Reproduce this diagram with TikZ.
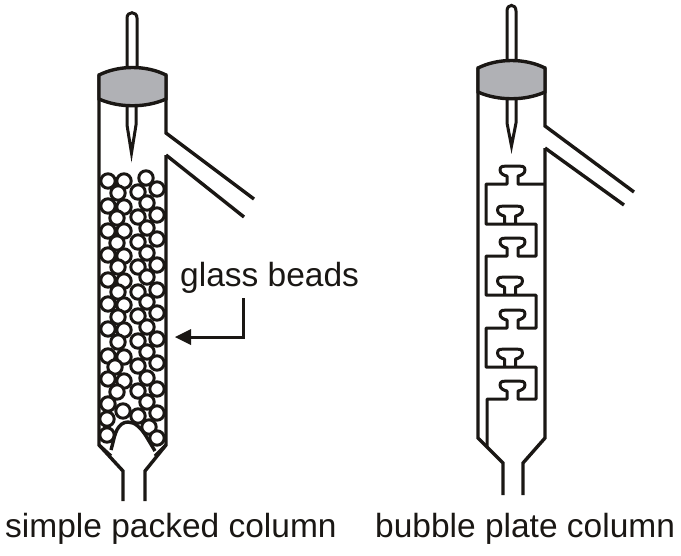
\documentclass[tikz,border=0pt]{standalone}
\usepackage{fontspec}
\setmainfont{Liberation Sans}
\definecolor{ink}{HTML}{1A1714}
\definecolor{stopper}{HTML}{B0B1B5}
\tikzset{
  glass/.style={draw=ink,line width=3.4pt,line join=miter},
  thin glass/.style={draw=ink,line width=3pt,line join=miter},
  bead/.style={draw=ink,line width=3pt,fill=white},
  lbl/.style={font=\fontsize{33.5}{38}\selectfont,text=ink,inner sep=0pt}
}
\newcommand{\platecap}[2]{% centre x, base y
  (#1+5.5,#2) -- (#1+5.5,#2-8) .. controls (#1+8,#2-8.5) and (#1+12.5,#2-10) .. (#1+12.5,#2-14)
  .. controls (#1+12.5,#2-18) and (#1+9,#2-18) .. (#1+6,#2-18) -- (#1-6,#2-18)
  .. controls (#1-9,#2-18) and (#1-12.5,#2-18) .. (#1-12.5,#2-14)
  .. controls (#1-12.5,#2-10) and (#1-8,#2-8.5) .. (#1-5.5,#2-8) -- (#1-5.5,#2)}
\newcommand{\stopperpath}[3]{% xl, xr, top y
  (#1,#3+8) .. controls (#1+20,#3-2) and (#2-20,#3-2) .. (#2,#3+8) -- (#2,#3+32)
  .. controls (#2-20,#3+41) and (#1+20,#3+41) .. (#1,#3+32) -- cycle}
\begin{document}
\begin{tikzpicture}[x=1pt,y=-1pt]
\useasboundingbox (0,0) rectangle (681,555);
% ---------- left column ----------
\draw[glass] (99,75) -- (99,445) -- (123,471) -- (123,501);
\draw[glass] (166,75) -- (166,133) -- (254,199);
\draw[glass] (166,155) -- (244,217);
\draw[glass] (166,155) -- (166,445) -- (145,471) -- (145,501);
\foreach \x/\y in {108/181,124/181,146/178,118/193,138/192,157/189,
  108/206,124/207,147/203,117/218,138/217,157/215,
  108/231,124/231,147/228,117/243,138/242,157/239,
  108/255,124/256,147/253,118/267,138/267,157/265,
  108/280,124/281,147/277,118/292,138/292,157/290,
  108/304,124/305,147/302,118/317,138/316,157/313,
  108/329,124/330,147/327,118/342,138/341,157/339,
  108/356,124/357,147/352,115/367,138/366,157/363,
  108/379,124/381,147/378,117/392,138/391,157/389,
  108/404,123/411,147/402,138/416,157/413,107/419,107/435,149/427,157/438}
  \draw[bead] (\x,\y) circle (7.2);
\draw[glass,fill=white] (111,450) .. controls (113,443) and (114,437) .. (116,432)
  .. controls (119,425) and (123,422) .. (128,422)
  .. controls (135,422) and (141,428) .. (146,436) -- (155,451);
\draw[glass] (99,445) -- (111,456);
\draw[glass] (166,445) -- (155,456);
\draw[thin glass,fill=white] (127,72) -- (127,18) .. controls (127,11) and (137,11) .. (137,18) -- (137,72);
\draw[thin glass,fill=white] (127,105) -- (127,125) -- (131.5,153) -- (136,125) -- (136,105);
\draw[glass,fill=stopper] \stopperpath{99}{166}{67};
% ---------- right column ----------
\draw[glass] (478,68) -- (478,438) -- (503,463) -- (503,495);
\draw[glass] (545,68) -- (545,126) -- (634,192);
\draw[glass] (545,148) -- (624,205);
\draw[glass] (545,148) -- (545,438) -- (523,463) -- (523,495);
\draw[thin glass,line join=round] (545,184) -- \platecap{512.5}{184} -- (486,184) -- (486,224)
  -- \platecap{510}{224} -- (536,224) -- (536,256)
  -- \platecap{512.5}{256} -- (486,256) -- (486,295)
  -- \platecap{510}{295} -- (536,295) -- (536,328)
  -- \platecap{512.5}{328} -- (486,328) -- (486,367)
  -- \platecap{510}{367} -- (536,367) -- (536,399)
  -- \platecap{512.5}{399} -- (487,399) -- (487,447);
\draw[thin glass,fill=white] (507,65) -- (507,11) .. controls (507,3.5) and (516,3.5) .. (516,11) -- (516,65);
\draw[thin glass,fill=white] (507,98) -- (507,123) -- (511.5,146) -- (516,123) -- (516,98);
\draw[glass,fill=stopper] \stopperpath{478}{545}{60};
% ---------- labels ----------
\node[lbl,anchor=base west] (beads) at (180,286) {glass beads};
\node[lbl,anchor=base west] (packed) at (5,537) {simple packed column};
\node[lbl,anchor=base west] (bubble) at (375,537) {bubble plate column};
\coordinate (pointer) at (175,337);
\draw[draw=ink,line width=3pt] (243,298) -- (243,337) -- (190,337);
\fill[ink] (pointer) -- (191,329) -- (191,345) -- cycle;
\end{tikzpicture}
\end{document}
